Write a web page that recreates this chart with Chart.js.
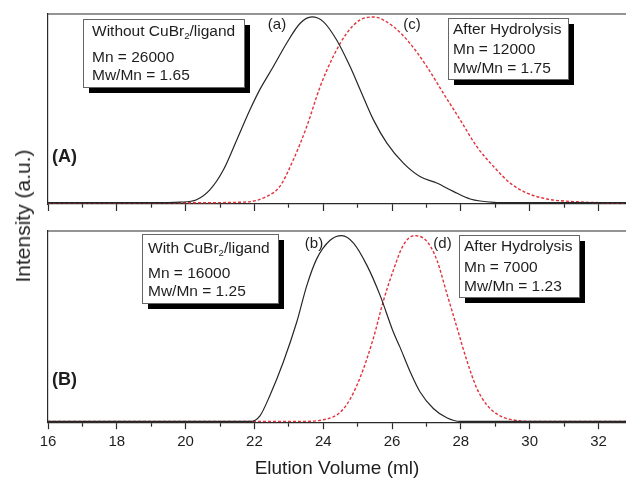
<!DOCTYPE html>
<html>
<head>
<meta charset="utf-8">
<script src="https://cdn.jsdelivr.net/npm/chart.js@4.4.0/dist/chart.umd.min.js"></script>
<style>
  body { margin: 0; background: #fff; overflow: hidden; }
  #wrap { position: relative; width: 626px; height: 478px; overflow: hidden; font-family: "Liberation Sans", Arial, sans-serif; }
  #panelA { position: absolute; left: 0; top: 0; }
  #panelB { position: absolute; left: 0; top: 215px; }
  #yTitle {
    position: absolute; left: 23px; top: 216px;
    transform: translate(-50%, -50%) rotate(-90deg);
    font-size: 21px; color: #222; white-space: nowrap;
  }
</style>
</head>
<body>
<div id="wrap">
  <canvas id="panelA" width="626" height="215"></canvas>
  <canvas id="panelB" width="626" height="265"></canvas>
  <div id="yTitle">Intensity (a.u.)</div>
</div>
<script>
// Data (elution volume in ml, normalised intensity)

const seriesLabels = ['(a)', '(c)', '(b)', '(d)'];

// (a) without CuBr2/ligand
const volWithout = [16, 19.0, 19.84, 20.32, 20.71, 21.10, 21.49, 21.87, 22.16, 22.55, 22.94, 23.33, 23.67, 24.0, 24.39, 24.78, 25.07, 25.46, 25.85, 26.33, 26.81, 27.30, 27.78, 28.27, 28.95, 29.5, 32.8];
const intWithout = [0, 0, 0.003, 0.016, 0.07, 0.177, 0.339, 0.50, 0.61, 0.733, 0.86, 0.966, 1.0, 0.975, 0.876, 0.733, 0.61, 0.446, 0.321, 0.213, 0.141, 0.106, 0.061, 0.02, 0.002, 0, 0];

// (c) after hydrolysis of (a)
const volHydroA = [16, 20.4, 21.78, 22.36, 22.74, 23.13, 23.52, 23.91, 24.29, 24.68, 25.07, 25.46, 26.04, 26.52, 27.01, 27.49, 27.98, 28.46, 28.95, 29.43, 29.92, 30.5, 31.37, 32.3, 32.8];
const intHydroA = [0, 0, 0.004, 0.034, 0.088, 0.231, 0.41, 0.625, 0.787, 0.912, 0.984, 1.0, 0.948, 0.858, 0.733, 0.59, 0.446, 0.303, 0.195, 0.106, 0.052, 0.02, 0.005, 0, 0];

// (b) with CuBr2/ligand
const volWith = [16, 21.9, 22.16, 22.45, 22.84, 23.23, 23.52, 23.81, 24.20, 24.54, 24.88, 25.27, 25.65, 26.04, 26.23, 26.52, 26.81, 27.20, 27.59, 27.98, 32.8];
const intWith = [0, 0, 0.03, 0.14, 0.32, 0.535, 0.73, 0.875, 0.975, 1.0, 0.96, 0.84, 0.68, 0.48, 0.40, 0.27, 0.16, 0.07, 0.02, 0, 0];

// (d) after hydrolysis of (b)
const volHydroB = [16, 23.3, 24.29, 24.68, 25.07, 25.46, 25.75, 26.04, 26.33, 26.65, 27.01, 27.30, 27.59, 27.88, 28.17, 28.46, 28.75, 29.14, 29.63, 30.1, 32.8];
const intHydroB = [0, 0, 0.025, 0.09, 0.235, 0.45, 0.65, 0.815, 0.95, 1.0, 0.97, 0.87, 0.69, 0.51, 0.33, 0.18, 0.09, 0.03, 0.005, 0, 0];

// x ticks: labelled at even volumes, short minor ticks at odd ones
const volTicks = [16, 17, 18, 19, 20, 21, 22, 23, 24, 25, 26, 27, 28, 29, 30, 31, 32];
const volMin = 16;
const volMax = 32.8;

// Styles

const AXIS = '#2a2a2a';
const TEXT = '#1e1e1e';
const BLACK_LINE = '#262626';
const RED_LINE = '#e2333b';
const FONT = '"Liberation Sans", Arial, sans-serif';

const toPoints = (xs, ys) => xs.map((x, i) => ({ x: x, y: ys[i] }));

const curve = (label, xs, ys, dashed) => ({
    label: label,
    data: toPoints(xs, ys),
    borderColor: dashed ? RED_LINE : BLACK_LINE,
    borderWidth: dashed ? 1.4 : 1.2,
    borderDash: dashed ? [3, 2] : [],
    pointRadius: 0,
    fill: false,
    cubicInterpolationMode: 'monotone',
});

// Text boxes with drop shadow, labels, top frame line

function drawRich(ctx, text, x, y, size) {
    const parts = text.split('_');
    let cx = x;
    parts.forEach((p, i) => {
        if (i > 0) {
            ctx.font = (size * 0.62) + 'px ' + FONT;
            ctx.fillText(p[0], cx, y + size * 0.33);
            cx += ctx.measureText(p[0]).width;
            p = p.slice(1);
        }
        ctx.font = size + 'px ' + FONT;
        ctx.fillText(p, cx, y);
        cx += ctx.measureText(p).width;
    });
}

const notesPlugin = {
    id: 'notes',
    afterDraw(chart, args, opts) {
        const ctx = chart.ctx;
        const area = chart.chartArea;
        ctx.save();
        ctx.strokeStyle = AXIS;
        ctx.lineWidth = 1.2;
        ctx.beginPath();
        ctx.moveTo(area.left, area.top);
        ctx.lineTo(area.right, area.top);
        ctx.stroke();

        (opts.boxes || []).forEach(b => {
            ctx.fillStyle = '#000';
            ctx.fillRect(b.x + 6, b.y + 6, b.w, b.h);
            ctx.fillStyle = '#fff';
            ctx.fillRect(b.x, b.y, b.w, b.h);
            ctx.strokeStyle = '#666';
            ctx.lineWidth = 1;
            ctx.strokeRect(b.x + 0.5, b.y + 0.5, b.w, b.h);
            ctx.fillStyle = TEXT;
            ctx.textAlign = 'left';
            ctx.textBaseline = 'middle';
            b.lines.forEach((t, i) => drawRich(ctx, t, b.tx, b.rows[i], 15.5));
        });

        (opts.labels || []).forEach(l => {
            ctx.fillStyle = TEXT;
            ctx.font = l.font;
            ctx.textAlign = l.align || 'center';
            ctx.textBaseline = 'middle';
            ctx.fillText(l.text, l.x, l.y);
        });
        ctx.restore();
    }
};

function makePanel(id, datasets, yMin, yMax, padding, showLabels, notes) {
    return new Chart(document.getElementById(id), {
        type: 'line',
        data: { datasets: datasets },
        options: {
            responsive: false,
            animation: false,
            events: [],
            layout: { padding: padding },
            plugins: {
                legend: { display: false },
                tooltip: { enabled: false },
                notes: notes,
            },
            scales: {
                x: {
                    type: 'linear',
                    min: volMin,
                    max: volMax,
                    afterBuildTicks: s => { s.ticks = volTicks.map(v => ({ value: v })); },
                    ticks: {
                        display: showLabels,
                        autoSkip: false,
                        maxRotation: 0,
                        padding: 4,
                        color: TEXT,
                        font: { family: FONT, size: 15 },
                        callback: v => (v % 2 === 0 ? v : ''),
                    },
                    grid: {
                        drawOnChartArea: false,
                        tickLength: 7,
                        tickColor: AXIS,
                        tickWidth: 1.2,
                        tickBorderDash: c => (c.tick && c.tick.value % 2 ? [3.5, 20] : []),
                    },
                    border: { color: AXIS, width: 1.2 },
                    title: {
                        display: showLabels,
                        text: 'Elution Volume (ml)',
                        color: TEXT,
                        font: { family: FONT, size: 19 },
                        padding: { top: 2, bottom: 0 },
                    },
                },
                y: {
                    min: yMin,
                    max: yMax,
                    ticks: { display: false },
                    grid: { drawOnChartArea: false, drawTicks: false },
                    border: { color: AXIS, width: 1.2 },
                },
            },
        },
        plugins: [notesPlugin],
    });
}

const chartA = makePanel('panelA', [
    curve(seriesLabels[0], volWithout, intWithout, false),
    curve(seriesLabels[1], volHydroA, intHydroA, true),
], -0.007, 1.016, { left: 48, top: 14, right: 0, bottom: 4 }, false, {
    boxes: [
        { x: 83, y: 19, w: 161, h: 68, tx: 92, rows: [31.5, 57.5, 76],
          lines: ['Without CuBr_2/ligand', 'Mn = 26000', 'Mw/Mn = 1.65'] },
        { x: 448, y: 18, w: 120, h: 61, tx: 453, rows: [30, 49.5, 69],
          lines: ['After Hydrolysis', 'Mn = 12000', 'Mw/Mn = 1.75'] },
    ],
    labels: [
        { text: seriesLabels[0], x: 277, y: 25, font: '15px ' + FONT },
        { text: seriesLabels[1], x: 412, y: 25, font: '15px ' + FONT },
        { text: '(A)', x: 52, y: 157, align: 'left', font: 'bold 18px ' + FONT },
    ],
});

const chartB = makePanel('panelB', [
    curve(seriesLabels[2], volWith, intWith, false),
    curve(seriesLabels[3], volHydroB, intHydroB, true),
], -0.004, 1.025, { left: 48, top: 16, right: 0, bottom: 0 }, true, {
    boxes: [
        { x: 142, y: 19, w: 136, h: 69, tx: 148, rows: [33.5, 59, 77],
          lines: ['With CuBr_2/ligand', 'Mn = 16000', 'Mw/Mn = 1.25'] },
        { x: 459, y: 20, w: 120, h: 62, tx: 464, rows: [32, 52.5, 72],
          lines: ['After Hydrolysis', 'Mn = 7000', 'Mw/Mn = 1.23'] },
    ],
    labels: [
        { text: seriesLabels[2], x: 314, y: 29, font: '15px ' + FONT },
        { text: seriesLabels[3], x: 442.5, y: 29, font: '15px ' + FONT },
        { text: '(B)', x: 52, y: 165, align: 'left', font: 'bold 18px ' + FONT },
    ],
});
</script>
</body>
</html>
